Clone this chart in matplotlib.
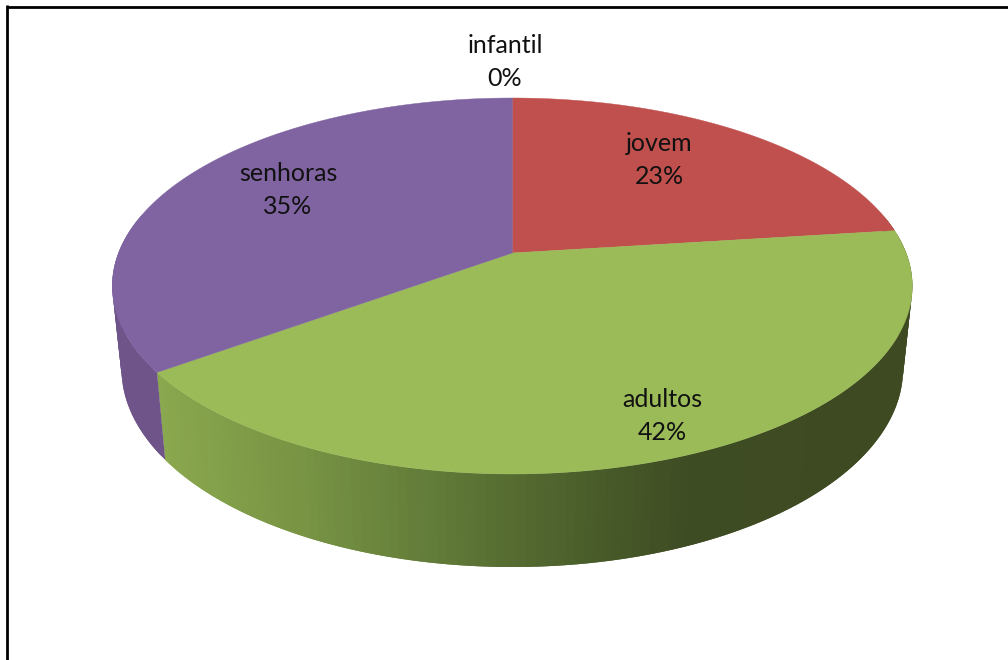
import numpy as np
import matplotlib
matplotlib.use("Agg")
import matplotlib.pyplot as plt
from matplotlib.collections import PolyCollection
from matplotlib.patches import Polygon

categories = ["infantil", "jovem", "adultos", "senhoras"]
values = [0, 23, 42, 35]
colors = ["#4F81BD", "#C0504D", "#9BBB59", "#8064A2"]
label_xy = [(505, 62), (659, 160), (662, 416), (288, 190)]

W, H = 1008, 660
fig = plt.figure(figsize=(W / 100, H / 100), dpi=100)
ax = fig.add_axes([0, 0, 1, 1])
ax.set_xlim(0, W)
ax.set_ylim(H, 0)
ax.axis("off")

# perspective projection of the pie disc
CX, R, C = 512.3, 393.8, 0.1755


def top(theta):
    u, v = np.sin(theta), np.cos(theta)
    d = 1 + C * v
    return CX + R * u / d, (253 - 137.8 * v) / d


def bottom(theta):
    u, v = np.sin(theta), np.cos(theta)
    d = 1 + C * v
    return CX + 0.977 * R * u / d, (334 - 133.5 * v) / d


shares = np.array(values, dtype=float) / sum(values)
edges = np.concatenate([[0], np.cumsum(shares)]) * 2 * np.pi

# side wall colour stops, by screen x
wall_x = [157, 300, 450, 600, 690, 920]
wall_green = np.array([[0x8A, 0xA8, 0x4E], [0x78, 0x94, 0x44], [0x5F, 0x78, 0x37],
                       [0x48, 0x5B, 0x29], [0x3E, 0x4C, 0x23], [0x3E, 0x4A, 0x22]]) / 255
wall_purple = "#6E5488"

# side wall strips; each strip overlaps the next so no seams show
polys, fc = [], []
for i in range(len(values)):
    if shares[i] == 0:
        continue
    steps = np.linspace(edges[i], edges[i + 1], max(2, int(values[i] * 3)))
    for j, (a, b) in enumerate(zip(steps[:-1], steps[1:])):
        m = (a + b) / 2
        if np.cos(m) > 0.2:
            continue
        far = steps[min(j + 2, len(steps) - 1)]
        arc = np.linspace(a, far, 6)
        xt, yt = top(arc)
        xb, yb = bottom(arc)
        polys.append(np.vstack([np.column_stack([xt, yt]),
                                np.column_stack([xb, yb])[::-1]]))
        if categories[i] == "senhoras":
            fc.append(matplotlib.colors.to_rgb(wall_purple))
        else:
            xm = (top(a)[0] + top(b)[0]) / 2
            fc.append(tuple(np.interp(xm, wall_x, wall_green[:, k]) for k in range(3)))
ax.add_collection(PolyCollection(polys, facecolors=fc, edgecolors="none", linewidths=0, zorder=2))

# top faces
for i in range(len(values)):
    if shares[i] == 0:
        continue
    t = np.linspace(edges[i], edges[i + 1], 240)
    x, y = top(t)
    pts = np.vstack([[(CX, 253)], np.column_stack([x, y])])
    ax.add_patch(Polygon(pts, closed=True, facecolor=colors[i], edgecolor=colors[i], linewidth=0.3, zorder=3))

# data labels
for name, val, (lx, ly) in zip(categories, values, label_xy):
    ax.text(lx, ly, f"{name}\n{val}%", ha="center", va="center", fontsize=18,
            family="Lato", color="#111111", linespacing=1.55, zorder=5)

# chart frame, cut by the image on the right and at the bottom
ax.plot([6.8, W + 5], [6.8, 6.8], color="black", lw=2.0, solid_capstyle="butt", zorder=6)
ax.plot([6.8, 6.8], [5.4, H + 5], color="black", lw=2.0, solid_capstyle="butt", zorder=6)

fig.savefig("out.png", dpi=100, facecolor="white")
